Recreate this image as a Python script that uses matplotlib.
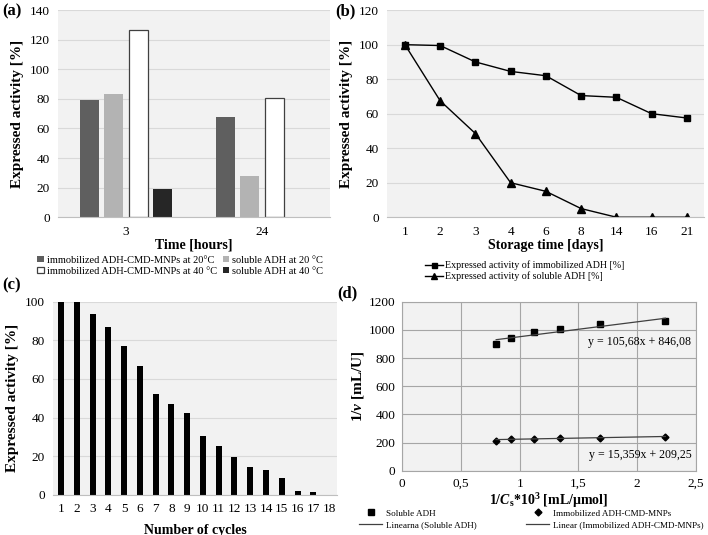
import numpy as np
from matplotlib import pyplot as plt

# (a) thermal stability
a_times = ["3", "24"]
a_labels = ["immobilized ADH-CMD-MNPs at 20°C", "soluble ADH at 20 °C",
            "immobilized ADH-CMD-MNPs at 40 °C", "soluble ADH at 40 °C"]
a_values = [[79, 68], [83.5, 28], [126.5, 80.5], [19, 0]]
a_colors = ["#5f5f5f", "#b3b3b3", "white", "#262626"]

# (b) storage stability
b_days = ["1", "2", "3", "4", "6", "8", "14", "16", "21"]
b_immob = [100, 99.5, 90, 84.5, 82, 70.5, 69.5, 60, 57.5]
b_soluble = [100, 67.5, 48.5, 20, 15, 5, 0, 0, 0]

# (c) reusability
c_cycles = [str(i) for i in range(1, 19)]
c_activity = [100, 100, 93.5, 87, 77, 66.5, 52, 47, 42.5, 30.5, 25.5, 19.5,
              14.5, 13, 8.5, 2, 1.5, 0]

# (d) Lineweaver-Burk
d_x = [0.8, 0.93, 1.12, 1.34, 1.68, 2.24]
d_soluble = [902, 940, 982, 1005, 1040, 1060]
d_immob = [215, 225, 229, 232, 236, 242]
d_fit_sol = (105.68, 846.08)
d_fit_imm = (15.359, 209.25)

plt.rcParams.update({
    "font.family": ["Liberation Serif", "DejaVu Serif"],
    "font.size": 9.5,
    "axes.labelsize": 11,
    "axes.labelweight": "bold",
    "mathtext.fontset": "custom",
    "mathtext.rm": "Liberation Serif",
    "mathtext.it": "Liberation Serif:italic",
    "mathtext.bf": "Liberation Serif:bold",
    "mathtext.bfit": "Liberation Serif:bold:italic",
})

BG = "#f2f2f2"
GRID = "#d9d9d9"
XLAB = 10


def style_ax(ax, grid_color=GRID):
    ax.set_facecolor(BG)
    for s in ["top", "right", "left"]:
        ax.spines[s].set_visible(False)
    ax.spines["bottom"].set_color("#bfbfbf")
    ax.tick_params(length=0, pad=6)
    ax.yaxis.grid(True, color=grid_color, lw=0.8)
    ax.set_axisbelow(True)


fig = plt.figure(figsize=(7.08, 5.35), dpi=100)

# ---- (a)
ax = fig.add_axes([0.082, 0.594, 0.384, 0.387])
style_ax(ax)
x = np.arange(len(a_times))
offs = [-0.27, -0.09, 0.09, 0.27]
bars = []
for vals, off, col, lab in zip(a_values, offs, a_colors, a_labels):
    white = col == "white"
    b = ax.bar(x + off, vals, width=0.14, color=col, label=lab,
               edgecolor="#404040" if white else col, linewidth=0.9 if white else 0)
    bars.append(b)
ax.set_xlim(-0.5, 1.5)
ax.set_ylim(0, 140)
ax.set_yticks(range(0, 141, 20))
ax.set_xticks(x)
ax.set_xticklabels(a_times)
ax.set_xlabel("Time [hours]", labelpad=1, fontsize=XLAB)
ax.set_ylabel("Expressed activity [%]")
order = [0, 2, 1, 3]
ax.legend([bars[i] for i in order], [a_labels[i] for i in order],
          loc="upper center", bbox_to_anchor=(0.45, -0.16), ncol=2, frameon=False,
          fontsize=7.5, handlelength=0.6, handleheight=0.6, columnspacing=0.6,
          handletextpad=0.3, labelspacing=0.2, borderpad=0)
fig.text(0.003, 0.978, "(a)", fontsize=12, fontweight="bold", va="center")

# ---- (b)
ax = fig.add_axes([0.547, 0.594, 0.448, 0.387])
style_ax(ax)
xb = np.arange(len(b_days))
ax.plot(xb, b_immob, color="black", lw=1, marker="s", ms=4.5,
        label="Expressed activity of immobilized ADH [%]")
ax.plot(xb, b_soluble, color="black", lw=1, marker="^", ms=6,
        label="Expressed activity of soluble ADH [%]")
ax.set_xlim(-0.5, len(b_days) - 0.5)
ax.set_ylim(0, 120)
ax.set_yticks(range(0, 121, 20))
ax.set_xticks(xb)
ax.set_xticklabels(b_days)
ax.set_xlabel("Storage time [days]", labelpad=1, fontsize=XLAB)
ax.set_ylabel("Expressed activity [%]")
ax.legend(loc="upper center", bbox_to_anchor=(0.434, -0.185), ncol=1, frameon=False,
          fontsize=7.2, handlelength=1.8, handletextpad=0.2, labelspacing=0.15,
          borderpad=0, markerscale=0.8)
fig.text(0.473, 0.978, "(b)", fontsize=12, fontweight="bold", va="center")

# ---- (c)
ax = fig.add_axes([0.075, 0.075, 0.401, 0.361])
style_ax(ax)
xc = np.arange(len(c_cycles))
ax.bar(xc, c_activity, width=0.38, color="black")
ax.set_xlim(-0.5, len(c_cycles) - 0.5)
ax.set_ylim(0, 100)
ax.set_yticks(range(0, 101, 20))
ax.set_xticks(xc)
ax.set_xticklabels(c_cycles)
ax.set_xlabel("Number of cycles", labelpad=6, fontsize=XLAB)
ax.set_ylabel("Expressed activity [%]")
fig.text(0.003, 0.466, "(c)", fontsize=12, fontweight="bold", va="center")

# ---- (d)
ax = fig.add_axes([0.568, 0.12, 0.415, 0.316])
ax.set_facecolor(BG)
for s in ax.spines.values():
    s.set_color("#a6a6a6")
    s.set_linewidth(0.8)
ax.tick_params(length=0, pad=5)
ax.grid(True, color="#a6a6a6", lw=0.8)
ax.set_axisbelow(True)
xd = np.array([d_x[0], d_x[-1]])
ax.plot(d_x, d_soluble, ls="none", marker="s", ms=5, color="black", label="Soluble ADH")
ax.plot(xd, d_fit_sol[0] * xd + d_fit_sol[1], color="#404040", lw=0.9,
        label="Linearna (Soluble ADH)")
ax.plot(d_x, d_immob, ls="none", marker="D", ms=3.5, color="black",
        label="Immobilized ADH-CMD-MNPs")
ax.plot(xd, d_fit_imm[0] * xd + d_fit_imm[1], color="#404040", lw=0.9,
        label="Linear (Immobilized ADH-CMD-MNPs)")
ax.text(2.46, 916, "y = 105,68x + 846,08", ha="right", va="center", fontsize=8.6)
ax.text(2.46, 114, "y = 15,359x + 209,25", ha="right", va="center", fontsize=8.6)
ax.set_xlim(0, 2.5)
ax.set_ylim(0, 1200)
ax.set_yticks(range(0, 1201, 200))
ax.set_xticks([0, 0.5, 1, 1.5, 2, 2.5])
ax.set_xticklabels(["0", "0,5", "1", "1,5", "2", "2,5"])
ax.set_xlabel(r"1/$\mathbfit{C}_\mathbf{s}$*10$^\mathbf{3}$ [mL/µmol]", labelpad=1,
              fontsize=XLAB)
ax.set_ylabel(r"1/$\mathbfit{v}$ [mL/U]", labelpad=2)
h, l = ax.get_legend_handles_labels()
ax.legend(h, l, loc="upper center", bbox_to_anchor=(0.44, -0.2), ncol=2, frameon=False,
          fontsize=6.6, handlelength=2.5, handletextpad=0.4, labelspacing=0.3,
          columnspacing=5.4, borderpad=0)
fig.text(0.476, 0.452, "(d)", fontsize=12, fontweight="bold", va="center")

fig.savefig("out.png", dpi=100)
